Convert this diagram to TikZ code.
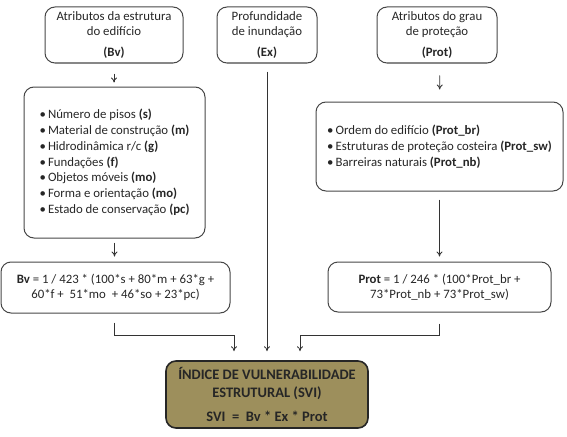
\documentclass[tikz,border=0pt]{standalone}
\usepackage{fontspec}
\setmainfont{Carlito}
\usepackage{xcolor}
\usepackage{tikz}
\usetikzlibrary{arrows.meta}
\definecolor{caixaborda}{RGB}{70,70,70}
\definecolor{caixasvi}{RGB}{157,143,92}

\begin{document}
\begin{tikzpicture}[x=1pt,y=-1pt,
		caixa/.style={draw=caixaborda,line width=1pt,rounded corners=10pt,
			align=center,inner sep=2pt,font=\fontsize{12.8}{15}\selectfont,text=black!85},
		lista/.style={caixa,align=left,font=\fontsize{12.8}{15.8}\selectfont},
		final/.style={caixa,draw=black!85,line width=1.6pt,fill=caixasvi,
			font=\fontsize{14.5}{18}\selectfont\bfseries,text=black!85},
		seta/.style={draw=black!80,line width=0.8pt,-{To[length=5pt,width=6pt]}},
		linha/.style={draw=black!80,line width=0.8pt}]
	\useasboundingbox (0,0) rectangle (567,436);
	\node[caixa,minimum width=138pt,minimum height=56pt] (bvtopo) at (114,35)
		{Atributos da estrutura\\do edifício\\[6pt]\textbf{(Bv)}};
	\node[caixa,minimum width=100pt,minimum height=56pt] (extopo) at (267,35)
		{Profundidade\\de inundação\\[6pt]\textbf{(Ex)}};
	\node[caixa,minimum width=120pt,minimum height=56pt] (prottopo) at (437,35)
		{Atributos do grau\\de proteção\\[6pt]\textbf{(Prot)}};
	\node[lista,minimum width=181pt,minimum height=151pt] (bvlista) at (114.5,162.5)
		{\textbullet\,Número de pisos \textbf{(s)}\\
		\textbullet\,Material de construção \textbf{(m)}\\
		\textbullet\,Hidrodinâmica r/c \textbf{(g)}\\
		\textbullet\,Fundações \textbf{(f)}\\
		\textbullet\,Objetos móveis \textbf{(mo)}\\
		\textbullet\,Forma e orientação \textbf{(mo)}\\
		\textbullet\,Estado de conservação \textbf{(pc)}};
	\node[lista,minimum width=247pt,minimum height=89pt] (protlista) at (439.5,146.5)
		{\textbullet\,Ordem do edifício \textbf{(Prot\_br)}\\
		\textbullet\,Estruturas de proteção costeira \textbf{(Prot\_sw)}\\
		\textbullet\,Barreiras naturais \textbf{(Prot\_nb)}};
	\node[caixa,minimum width=229pt,minimum height=51pt] (bvformula) at (115.5,287.5)
		{\textbf{Bv} = 1 / 423 * (100*s + 80*m + 63*g +\\60*f +\ \ 51*mo\ \ + 46*so + 23*pc)};
	\node[caixa,minimum width=223pt,minimum height=50pt] (protformula) at (439.5,287)
		{\textbf{Prot} = 1 / 246 * (100*Prot\_br +\\73*Prot\_nb + 73*Prot\_sw)};
	\node[final,minimum width=202pt,minimum height=67pt] (svi) at (267,394.5)
		{ÍNDICE DE VULNERABILIDADE\\ESTRUTURAL (SVI)\\[6pt]SVI\ \ =\ \ Bv * Ex * Prot};

	\draw[seta,shorten <=10pt,shorten >=4pt] (bvtopo) -- (bvtopo |- bvlista.north);
	\draw[seta,shorten <=12pt,shorten >=12pt] ([xshift=3pt]prottopo.south) -- (protlista.north);
	\draw[seta,shorten <=4pt,shorten >=5pt] (bvlista) -- (bvlista |- bvformula.north);
	\draw[seta,shorten <=8pt,shorten >=5pt] (protlista) -- (protlista |- protformula.north);
	\draw[seta,shorten <=8pt,shorten >=9pt] (extopo) -- (svi);
	\draw[seta] ([yshift=-9pt]bvformula.south -| bvlista.south) |- ([xshift=-33pt,yshift=25pt]svi.north)
		-- ([xshift=-33pt,yshift=9pt]svi.north);
	\draw[seta] ([yshift=-11pt]protformula.south) |- ([xshift=33pt,yshift=25pt]svi.north)
		-- ([xshift=33pt,yshift=9pt]svi.north);
\end{tikzpicture}
\end{document}
